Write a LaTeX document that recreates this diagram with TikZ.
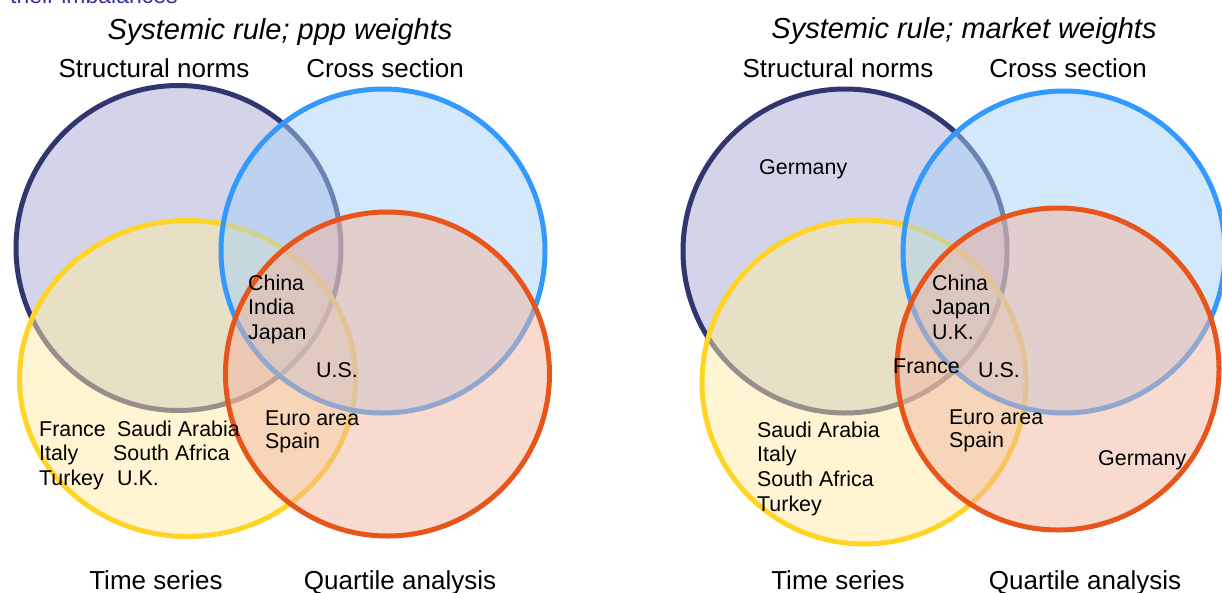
\documentclass[tikz,border=0pt]{standalone}
\usepackage{fontspec}
\setmainfont{Liberation Sans}
\definecolor{navyline}{RGB}{48,54,112}
\definecolor{navyfill}{RGB}{167,169,211}
\definecolor{skyline}{RGB}{51,153,255}
\definecolor{skyfill}{RGB}{167,209,247}
\definecolor{sunline}{RGB}{255,212,36}
\definecolor{sunfill}{RGB}{255,235,165}
\definecolor{rustline}{RGB}{232,84,26}
\definecolor{rustfill}{RGB}{241,181,159}
\definecolor{topblue}{RGB}{51,51,153}
\tikzset{
  setbase/.style={line width=5pt, fill opacity=0.5},
  structset/.style={setbase, draw=navyline, fill=navyfill},
  crossset/.style={setbase, draw=skyline, fill=skyfill},
  timeset/.style={setbase, draw=sunline, fill=sunfill},
  quartset/.style={setbase, draw=rustline, fill=rustfill},
  charttitle/.style={font=\fontsize{29}{31}\itshape\selectfont, anchor=base, inner sep=0pt},
  setlabel/.style={font=\fontsize{26}{28}\selectfont, anchor=base, inner sep=0pt},
  country/.style={font=\fontsize{21.4}{24}\selectfont, anchor=base west, inner sep=0pt},
}
\begin{document}
\begin{tikzpicture}[x=1pt,y=-1pt]
\useasboundingbox (0,0) rectangle (1222,592);
\clip (0,0) rectangle (1222,592);
% cut-off text at top
\node[font=\fontsize{23}{25}\selectfont, text=topblue, anchor=base west, inner sep=0pt] (cut) at (10,3) {their imbalances};

% ---------- left diagram ----------
\draw[structset] (178.5,248) circle[radius=162.5pt];
\draw[timeset] (187.5,378.5) ellipse[x radius=168pt, y radius=158pt];
\draw[crossset] (383,251) circle[radius=162pt];
\draw[quartset] (387.5,374) circle[radius=162pt];

\node[charttitle] (ltitle) at (280,39) {Systemic rule; ppp weights};
\node[setlabel] (lstruct) at (154,77) {Structural norms};
\node[setlabel] (lcross) at (385,77) {Cross section};
\node[setlabel] (ltime) at (156,589) {Time series};
\node[setlabel] (lquart) at (400,589) {Quartile analysis};

\node[country] (lchina) at (248,290) {China};
\node[country] (lindia) at (248,314) {India};
\node[country] (ljapan) at (248,339) {Japan};
\node[country] (lus) at (316,377) {U.S.};
\node[country] (leuro) at (265,425) {Euro area};
\node[country] (lspain) at (265,448) {Spain};
\node[country] (lfrance) at (39,436) {France};
\node[country] (litaly) at (39,460) {Italy};
\node[country] (lturkey) at (39,485) {Turkey};
\node[country] (lsaudi) at (117,436) {Saudi Arabia};
\node[country] (lsafrica) at (113,460) {South Africa};
\node[country] (luk) at (117,485) {U.K.};

% ---------- right diagram ----------
\draw[structset] (845,251) circle[radius=162pt];
\draw[timeset] (864,382) circle[radius=162pt];
\draw[crossset] (1064,252) circle[radius=161pt];
\draw[quartset] (1058,369) circle[radius=161pt];

\node[charttitle] (rtitle) at (964,38) {Systemic rule; market weights};
\node[setlabel] (rstruct) at (838,77) {Structural norms};
\node[setlabel] (rcross) at (1068,77) {Cross section};
\node[setlabel] (rtime) at (838,589) {Time series};
\node[setlabel] (rquart) at (1085,589) {Quartile analysis};

\node[country] (rgermanytop) at (759,174) {Germany};
\node[country] (rchina) at (932,290) {China};
\node[country] (rjapan) at (932,314) {Japan};
\node[country] (ruk) at (932,339) {U.K.};
\node[country] (rfrance) at (893,373) {France};
\node[country] (rus) at (978,377) {U.S.};
\node[country] (reuro) at (949,424) {Euro area};
\node[country] (rspain) at (949,447) {Spain};
\node[country] (rgermanylow) at (1098,465) {Germany};
\node[country] (rsaudi) at (757,437) {Saudi Arabia};
\node[country] (ritaly) at (757,461) {Italy};
\node[country] (rsafrica) at (757,486) {South Africa};
\node[country] (rturkey) at (757,511) {Turkey};
\end{tikzpicture}
\end{document}
